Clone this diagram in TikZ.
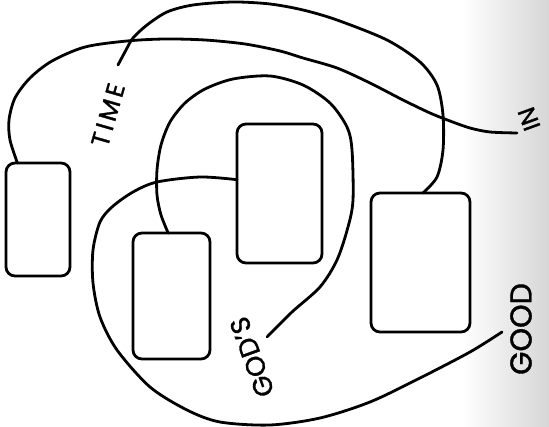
\documentclass[tikz,border=0pt]{standalone}
\usepackage{fontspec}
\setmainfont[FakeBold=1.2]{Poppins}
\newfontfamily\spacedfont[LetterSpace=14,FakeBold=1.2]{Poppins}

\begin{document}
\begin{tikzpicture}[
  x=1pt, y=-1pt,
  line width=2.8pt,
  box/.style={draw, rounded corners=9pt, inner sep=0pt, outer sep=0pt},
  curve/.style={line cap=round, line join=round},
  lbl/.style={inner sep=0pt, outer sep=0pt},
]
\useasboundingbox (0,0) rectangle (549,427);
% page shadow at the gutter
\shade[left color=white, right color=black!16, draw=none] (462,0) rectangle (549,427);
% boxes
\node[box, minimum width=64pt, minimum height=113pt] (boxA) at (38,219.5) {};
\node[box, minimum width=77pt, minimum height=126pt] (boxB) at (171.5,296) {};
\node[box, minimum width=85pt, minimum height=139pt] (boxC) at (279.5,193.5) {};
\node[box, minimum width=99pt, minimum height=139pt] (boxD) at (420.5,262.5) {};
% labels
\node[lbl, rotate=74, font=\spacedfont\fontsize{25}{25}\selectfont] (time) at (108,115) {TIME};
\node[lbl, rotate=110, font=\fontsize{27}{27}\selectfont] (gods) at (252,357) {GOD'S};
\node[lbl, rotate=90, font=\fontsize{30}{30}\selectfont] (good) at (521,329) {GOOD};
\node[lbl, rotate=110, font=\fontsize{24}{24}\selectfont] (into) at (529,119) {IN};
% free ends of the curves
\coordinate (timeEnd) at (118,65);
\coordinate (intoEnd) at (517,133);
\coordinate (godsEnd) at (267,337);
\coordinate (goodEnd) at (502,332);
% curves
\draw[curve] plot[smooth] coordinates {(boxA.110) (10,140) (9,120) (15,98) (30,78)
  (52,61) (85,47) (127,41) (165,39) (205,40) (245,44) (280,51) (303,58) (337,68)
  (370,83) (403,100) (430,113) (450,121) (470,128) (490,132) (intoEnd)};
\draw[curve] plot[smooth] coordinates {(timeEnd) (126,50) (133,38) (147,25) (167,12)
  (193,5) (233,2) (270,4) (303,10) (337,20) (387,40) (420,62) (437,85) (443,115)
  (443,150) (437,177) (boxD.88)};
\draw[curve] plot[smooth] coordinates {(boxB.93) (161,215) (157,195) (157,170)
  (161,145) (170,122) (185,103) (205,89) (233,79) (270,76) (303,85) (330,103)
  (347,127) (352,150) (353,200) (348,227) (337,260) (320,287) (292,312) (godsEnd)};
\draw[curve] plot[smooth] coordinates {(boxC.162) (200,177) (157,182) (133,192)
  (112,207) (100,222) (93,250) (93,283) (100,317) (117,350) (150,387) (187,410)
  (220,422) (270,425) (320,418) (370,402) (420,378) (470,352) (goodEnd)};
\end{tikzpicture}
\end{document}
